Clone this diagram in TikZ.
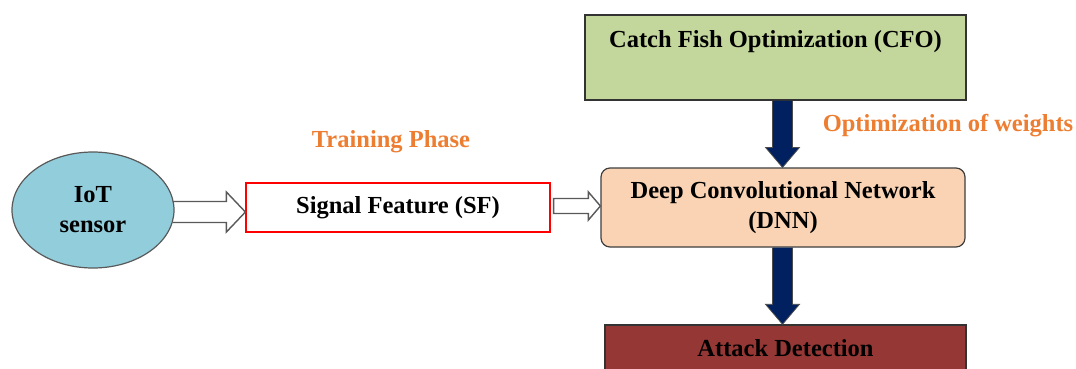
\documentclass[tikz,border=0pt]{standalone}
\usepackage{fontspec}
\setmainfont{Liberation Serif}
\usetikzlibrary{calc,shapes.geometric}
\definecolor{ellblue}{HTML}{92CDDC}
\definecolor{peach}{HTML}{FAD3B4}
\definecolor{cfogreen}{HTML}{C3D69B}
\definecolor{attackred}{HTML}{953735}
\definecolor{navyarr}{HTML}{002060}
\definecolor{lblorange}{HTML}{ED7D31}
\definecolor{outlinegray}{HTML}{595959}
\tikzset{
  txt/.style={font=\fontsize{24.5}{30}\selectfont\bfseries, text=black, align=center, inner sep=0pt},
  sensorell/.style={ellipse, draw=outlinegray, line width=1.2pt, fill=ellblue, minimum width=162pt, minimum height=116pt, inner sep=0pt, txt},
  sfbox/.style={rectangle, draw=red, line width=1.2pt, fill=white, minimum width=304pt, minimum height=49pt, txt},
  dnnbox/.style={rectangle, rounded corners=9pt, draw=outlinegray!70!black, line width=1.2pt, fill=peach, minimum width=364pt, minimum height=79pt, txt},
  cfobox/.style={rectangle, draw=black!80, line width=1.5pt, fill=cfogreen, minimum width=381pt, minimum height=85pt},
  attackbox/.style={rectangle, draw=black!80, line width=1.5pt, fill=attackred, minimum width=361pt, minimum height=50pt},
  orangelbl/.style={font=\fontsize{24.5}{30}\selectfont\bfseries, text=lblorange, inner sep=0pt},
  hollowarrow/.style={draw=outlinegray, line width=1.4pt, fill=white, line join=miter},
  navyshape/.style={draw=black!70, line width=0.8pt, fill=navyarr, line join=miter},
}
\begin{document}
\begin{tikzpicture}[x=1pt,y=-1pt]
\useasboundingbox (0,0) rectangle (1076,368);
% nodes
\node[sfbox] (sf) at (398,207.5) {Signal Feature (SF)};
\node[dnnbox] (dnn) at (783,207.5) {Deep Convolutional Network\\(DNN)};
\node[cfobox] (cfo) at (775.5,57.5) {};
\node[txt] (cfot) at (775.5,42) {Catch Fish Optimization (CFO)};
\node[attackbox] (att) at (785.5,350) {};
\node[txt] (attt) at (785.5,348) {Attack Detection};
\node[orangelbl] (lbltrain) at (391,142) {Training Phase};
\node[orangelbl] (lblopt) at (948,126) {Optimization of weights};
\coordinate (ax) at (782.5,0);
% hollow arrow IoT -> SF
\coordinate (t1) at ($(sf.west)+(0,4.5)$);
\coordinate (s1) at (172.5,0);
\path[hollowarrow] ($(s1 |- t1)+(0,-10.5)$) -- ($(t1)+(-19,-10.5)$) -- ($(t1)+(-19,-20)$) -- (t1)
  -- ($(t1)+(-19,20)$) -- ($(t1)+(-19,10.5)$) -- ($(s1 |- t1)+(0,10.5)$);
\node[sensorell] (ell) at (93,210) {IoT\\sensor};
% hollow arrow SF -> DNN
\coordinate (t2) at ($(dnn.west)+(0,-1.5)$);
\coordinate (s2) at ($(sf.east)+(3,0)$);
\draw[hollowarrow] ($(s2 |- t2)+(0,-7.5)$) -- ($(t2)+(-12,-7.5)$) -- ($(t2)+(-12,-14)$) -- (t2)
  -- ($(t2)+(-12,14)$) -- ($(t2)+(-12,7.5)$) -- ($(s2 |- t2)+(0,7.5)$) -- cycle;
% navy arrow CFO -> DNN
\coordinate (b3) at (cfo.south -| ax);
\coordinate (t3) at (dnn.north -| ax);
\draw[navyshape] ($(b3)+(-10,0)$) -- ($(t3)+(-10,-20)$) -- ($(t3)+(-17,-20)$) -- (t3)
  -- ($(t3)+(17,-20)$) -- ($(t3)+(10,-20)$) -- ($(b3)+(10,0)$);
% navy arrow DNN -> Attack
\coordinate (b4) at (dnn.south -| ax);
\coordinate (t4) at (att.north -| ax);
\draw[navyshape] ($(b4)+(-10,0)$) -- ($(t4)+(-10,-20)$) -- ($(t4)+(-17,-20)$) -- (t4)
  -- ($(t4)+(17,-20)$) -- ($(t4)+(10,-20)$) -- ($(b4)+(10,0)$);
\end{tikzpicture}
\end{document}
